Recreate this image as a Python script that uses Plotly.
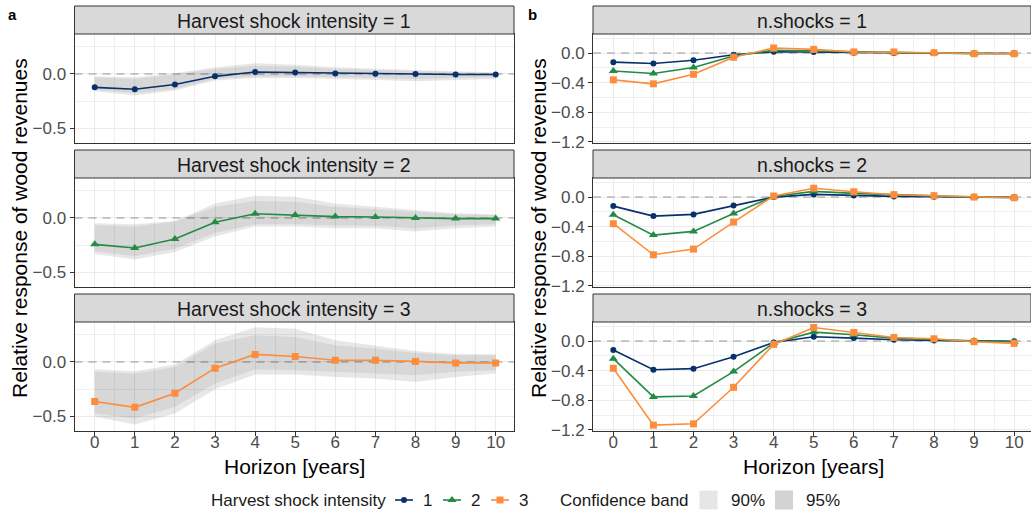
import plotly.graph_objects as go

W, H = 1031, 516
FONT = "Liberation Sans, Arial, Helvetica, sans-serif"

horizon = list(range(11))

# Responses to a single shock, by harvest shock intensity
irf_1shock_int1 = [-0.123, -0.140, -0.097, -0.022, 0.018, 0.013, 0.004, 0.001, 0.000, -0.005, -0.005]
irf_1shock_int2 = [-0.242, -0.276, -0.194, -0.039, 0.039, 0.027, 0.012, 0.009, 0.000, -0.006, -0.006]
irf_1shock_int3 = [-0.362, -0.416, -0.287, -0.057, 0.069, 0.050, 0.015, 0.015, 0.005, -0.009, -0.009]

# Responses to two consecutive shocks
irf_2shock_int1 = [-0.122, -0.257, -0.234, -0.113, 0.000, 0.036, 0.022, 0.009, 0.005, 0.000, -0.004]
irf_2shock_int2 = [-0.239, -0.514, -0.464, -0.221, 0.009, 0.077, 0.050, 0.032, 0.018, 0.000, -0.005]
irf_2shock_int3 = [-0.360, -0.780, -0.703, -0.338, 0.014, 0.120, 0.072, 0.032, 0.018, 0.000, -0.009]

# Responses to three consecutive shocks
irf_3shock_int1 = [-0.121, -0.387, -0.373, -0.211, -0.018, 0.058, 0.040, 0.018, 0.009, 0.000, -0.004]
irf_3shock_int2 = [-0.238, -0.755, -0.742, -0.413, -0.027, 0.121, 0.085, 0.040, 0.022, 0.000, -0.009]
irf_3shock_int3 = [-0.368, -1.137, -1.119, -0.625, -0.045, 0.184, 0.117, 0.049, 0.031, -0.009, -0.031]

# Confidence bands for the single-shock responses
int1_lo95 = [-0.159, -0.198, -0.152, -0.061, -0.037, -0.037, -0.046, -0.055, -0.067, -0.055, -0.046]
int1_hi95 = [-0.024, -0.030, 0.006, 0.061, 0.098, 0.085, 0.061, 0.046, 0.037, 0.024, 0.015]
int1_lo90 = [-0.146, -0.177, -0.137, -0.046, -0.024, -0.024, -0.030, -0.037, -0.046, -0.037, -0.030]
int1_hi90 = [-0.030, -0.046, -0.006, 0.046, 0.076, 0.067, 0.046, 0.037, 0.024, 0.015, 0.009]

int2_lo95 = [-0.330, -0.382, -0.312, -0.170, -0.079, -0.079, -0.094, -0.094, -0.124, -0.094, -0.079]
int2_hi95 = [-0.048, -0.058, -0.027, 0.133, 0.203, 0.194, 0.133, 0.103, 0.073, 0.042, 0.033]
int2_lo90 = [-0.306, -0.352, -0.282, -0.139, -0.058, -0.058, -0.070, -0.073, -0.094, -0.070, -0.058]
int2_hi90 = [-0.064, -0.079, -0.033, 0.103, 0.155, 0.148, 0.103, 0.082, 0.058, 0.033, 0.027]

int3_lo95 = [-0.503, -0.573, -0.472, -0.250, -0.116, -0.116, -0.137, -0.152, -0.183, -0.137, -0.107]
int3_hi95 = [-0.067, -0.085, -0.024, 0.198, 0.317, 0.305, 0.198, 0.146, 0.100, 0.073, 0.070]
int3_lo90 = [-0.473, -0.518, -0.410, -0.198, -0.070, -0.076, -0.090, -0.107, -0.122, -0.090, -0.076]
int3_hi90 = [-0.090, -0.107, -0.046, 0.168, 0.244, 0.229, 0.152, 0.122, 0.082, 0.061, 0.061]

intensity_labels = ["1", "2", "3"]
left_ticks = [-0.5, 0.0]
left_minor = [-0.25, 0.25]
right_ticks = [-1.2, -0.8, -0.4, 0.0]
right_minor = [-1.0, -0.6, -0.2, 0.2]
band_labels = ["90%", "95%"]

COLORS = ["#08306B", "#238B45", "#FD8D3C"]
SYMBOLS = ["circle", "triangle-up", "square"]
SIZES = [6, 8, 7]
BAND_OUTER = "rgba(0,0,0,0.095)"
BAND_INNER = "rgba(0,0,0,0.065)"
SWATCH = {"90%": "#E6E6E6", "95%": "#D3D3D3"}

left_series = [irf_1shock_int1, irf_1shock_int2, irf_1shock_int3]
left_bands = [
    (int1_lo95, int1_hi95, int1_lo90, int1_hi90),
    (int2_lo95, int2_hi95, int2_lo90, int2_hi90),
    (int3_lo95, int3_hi95, int3_lo90, int3_hi90),
]
right_series = [
    [irf_1shock_int1, irf_1shock_int2, irf_1shock_int3],
    [irf_2shock_int1, irf_2shock_int2, irf_2shock_int3],
    [irf_3shock_int1, irf_3shock_int2, irf_3shock_int3],
]

# pixel layout of the facet grid
panel_rows = [(34, 143), (178, 287), (322, 431)]
strip_rows = [(6, 34), (150, 178), (294, 322)]
col_left = (74.5, 514)
col_right = (593, 1031)
xrange_left = [-0.504, 10.456]
xrange_right = [-0.507, 10.42]
legend_band = (478, 516)


def fx(p):
    return p / W


def fy(p):
    return 1 - p / H


def fmt(v):
    s = f"{v:.1f}"
    return s.replace("-", "\u2212")


def suffix(idx):
    return "" if idx == 1 else str(idx)


fig = go.Figure()
layout = dict(
    width=W, height=H, margin=dict(l=0, r=0, t=0, b=0, pad=0, autoexpand=False),
    paper_bgcolor="white", plot_bgcolor="rgba(0,0,0,0)", showlegend=False,
    font=dict(family=FONT, color="#1A1A1A"),
)
shapes, annotations = [], []


def add_axes(idx, col, row, yr, yticks, yminor, xr):
    bottom = row == 2
    s = suffix(idx)
    x0, x1 = col
    p0, p1 = panel_rows[row]
    layout[f"xaxis{s}"] = dict(
        domain=[fx(x0), fx(x1)], range=xr, anchor=f"y{s}", automargin=False,
        showline=True, mirror=True, linecolor="#333333", linewidth=1,
        showgrid=True, gridcolor="#EBEBEB", gridwidth=1, zeroline=False,
        tickmode="array", tickvals=horizon, ticktext=[str(h) for h in horizon],
        ticks="outside" if bottom else "", ticklen=4, tickcolor="#333333",
        ticklabelstandoff=-8,
        showticklabels=bottom, tickfont=dict(size=17, color="#4D4D4D", family=FONT),
        minor=dict(tickvals=[h - 0.5 for h in horizon] + [10.5], showgrid=True,
                   gridcolor="#EFEFEF", gridwidth=0.6, ticks=""),
        fixedrange=True,
    )
    layout[f"yaxis{s}"] = dict(
        domain=[fy(p1), fy(p0)], range=yr, anchor=f"x{s}", automargin=False,
        showline=True, mirror=True, linecolor="#333333", linewidth=1,
        showgrid=True, gridcolor="#EBEBEB", gridwidth=1, zeroline=False,
        tickmode="array", tickvals=yticks, ticktext=[fmt(v) for v in yticks],
        ticks="outside", ticklen=4, tickcolor="#333333",
        tickfont=dict(size=17, color="#4D4D4D", family=FONT),
        minor=dict(tickvals=yminor, showgrid=True, gridcolor="#EFEFEF",
                   gridwidth=0.6, ticks=""),
        fixedrange=True,
    )
    # dashed reference line at zero, spanning the full panel width
    shapes.append(dict(
        type="line", xref=f"x{s}", yref=f"y{s}", x0=xr[0], x1=xr[1], y0=0, y1=0,
        line=dict(color="#BEBEBE", width=1.8, dash="8px,6px"), layer="between",
    ))


def add_strip(col, row, text):
    s0, s1 = strip_rows[row]
    shapes.append(dict(
        type="rect", xref="paper", yref="paper",
        x0=fx(col[0]), x1=fx(col[1]), y0=fy(s1), y1=fy(s0),
        fillcolor="#D9D9D9", line=dict(color="#333333", width=1), layer="above",
    ))
    annotations.append(dict(
        x=fx((col[0] + col[1]) / 2), y=fy((s0 + s1) / 2 + 1), xref="paper", yref="paper",
        text=text, showarrow=False, xanchor="center", yanchor="middle",
        font=dict(size=19.5, color="#1A1A1A", family=FONT),
    ))


def band_trace(idx, lo, hi, color):
    s = suffix(idx)
    return go.Scatter(
        x=horizon + horizon[::-1], y=hi + lo[::-1], xaxis=f"x{s}", yaxis=f"y{s}",
        mode="lines", fill="toself", fillcolor=color, line=dict(width=0),
        hoverinfo="skip",
    )


def line_trace(idx, ys, k):
    s = suffix(idx)
    return go.Scatter(
        x=horizon, y=ys, xaxis=f"x{s}", yaxis=f"y{s}", mode="lines+markers",
        line=dict(color=COLORS[k], width=1.6),
        marker=dict(symbol=SYMBOLS[k], size=SIZES[k], color=COLORS[k]),
        name=intensity_labels[k],
    )


# panel a: one facet per intensity, with confidence bands
for r in range(3):
    idx = r + 1
    add_axes(idx, col_left, r, [-0.633, 0.366], left_ticks, left_minor, xrange_left)
    add_strip(col_left, r, f"Harvest shock intensity = {intensity_labels[r]}")
    lo95, hi95, lo90, hi90 = left_bands[r]
    fig.add_trace(band_trace(idx, lo95, hi95, BAND_OUTER))
    fig.add_trace(band_trace(idx, lo90, hi90, BAND_INNER))
    fig.add_trace(line_trace(idx, left_series[r], r))

# panel b: one facet per number of shocks, all intensities together
for r in range(3):
    idx = r + 4
    add_axes(idx, col_right, r, [-1.216, 0.258], right_ticks, right_minor, xrange_right)
    add_strip(col_right, r, f"n.shocks = {r + 1}")
    for k in range(3):
        fig.add_trace(line_trace(idx, right_series[r][k], k))

# axis titles and panel tags
ytitle = "Relative response of wood revenues"
for xc in (19, 538):
    annotations.append(dict(
        x=fx(xc), y=fy(228), xref="paper", yref="paper", text=ytitle, textangle=-90,
        showarrow=False, xanchor="center", yanchor="middle",
        font=dict(size=21, color="#000000", family=FONT),
    ))
for xc in ((col_left[0] + col_left[1]) / 2, (col_right[0] + 1034) / 2):
    annotations.append(dict(
        x=fx(xc), y=fy(466), xref="paper", yref="paper", text="Horizon [years]",
        showarrow=False, xanchor="center", yanchor="middle",
        font=dict(size=21, color="#000000", family=FONT),
    ))
for tag, xc in (("a", 12.5), ("b", 532)):
    annotations.append(dict(
        x=fx(xc), y=fy(14), xref="paper", yref="paper", text=f"<b>{tag}</b>",
        showarrow=False, xanchor="center", yanchor="middle",
        font=dict(size=15, color="#000000", family=FONT),
    ))

# legend drawn on a strip-shaped overlay axis measured in pixels
layout["xaxis7"] = dict(domain=[0, 1], range=[0, W], visible=False, fixedrange=True,
                        anchor="y7", automargin=False)
layout["yaxis7"] = dict(domain=[fy(legend_band[1]), fy(legend_band[0])],
                        range=[legend_band[1], legend_band[0]], visible=False,
                        fixedrange=True, anchor="x7", automargin=False)
LEG_Y = 500
leg_font = dict(size=17, color="#1A1A1A", family=FONT)
annotations.append(dict(x=209, y=LEG_Y, xref="x7", yref="y7", text="Harvest shock intensity",
                        showarrow=False, xanchor="left", yanchor="middle", font=leg_font))
key_centers = [404, 452, 500]
for k, kc in enumerate(key_centers):
    fig.add_trace(go.Scatter(
        x=[kc - 9, kc + 9], y=[LEG_Y, LEG_Y], xaxis="x7", yaxis="y7", mode="lines",
        line=dict(color=COLORS[k], width=1.6), hoverinfo="skip",
    ))
    fig.add_trace(go.Scatter(
        x=[kc], y=[LEG_Y], xaxis="x7", yaxis="y7", mode="markers",
        marker=dict(symbol=SYMBOLS[k], size=SIZES[k], color=COLORS[k]), hoverinfo="skip",
    ))
    annotations.append(dict(x=kc + 23, y=LEG_Y, xref="x7", yref="y7", text=intensity_labels[k],
                            showarrow=False, xanchor="center", yanchor="middle", font=leg_font))
annotations.append(dict(x=557.5, y=LEG_Y, xref="x7", yref="y7", text="Confidence band",
                        showarrow=False, xanchor="left", yanchor="middle", font=leg_font))
for lab, sx in zip(band_labels, (699.5, 775)):
    shapes.append(dict(type="rect", xref="x7", yref="y7", x0=sx, x1=sx + 18,
                       y0=LEG_Y - 9.5, y1=LEG_Y + 9.5, fillcolor=SWATCH[lab],
                       line=dict(width=0)))
    annotations.append(dict(x=sx + 29, y=LEG_Y, xref="x7", yref="y7", text=lab,
                            showarrow=False, xanchor="left", yanchor="middle", font=leg_font))

layout["shapes"] = shapes
layout["annotations"] = annotations
fig.update_layout(**layout)
fig.write_html("out.html")
